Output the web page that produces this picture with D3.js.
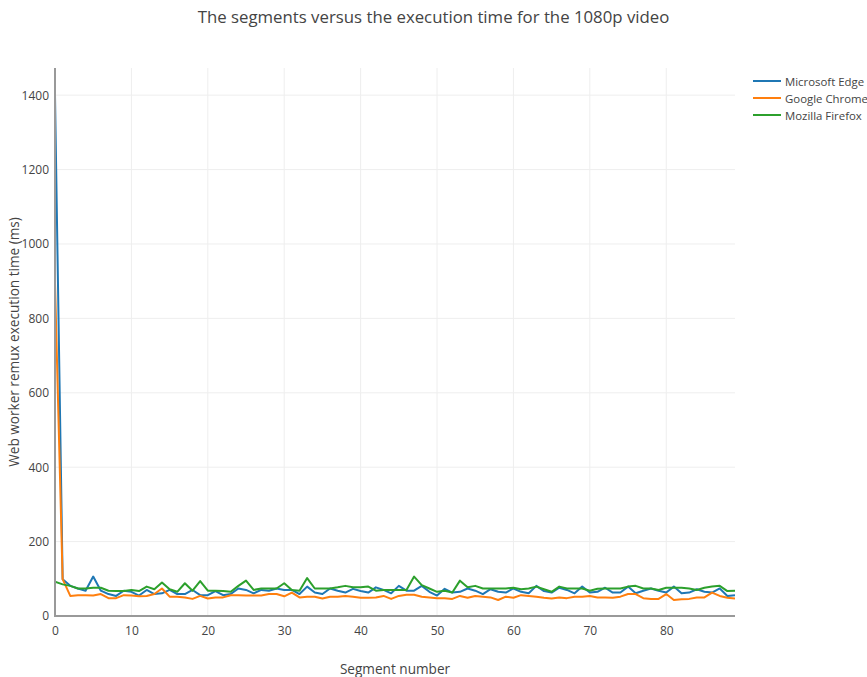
<!DOCTYPE html>
<html>
<head>
<meta charset="utf-8">
<script src="https://cdn.jsdelivr.net/npm/d3@7"></script>
<style>
  html, body { margin: 0; padding: 0; background: #fff; }
  svg { display: block; font-family: "Open Sans", "DejaVu Sans", sans-serif; }
</style>
</head>
<body>
<svg id="chart" width="867" height="677"></svg>
<script>
// Web worker remux execution time (ms) per segment, 1080p video
const segments = d3.range(0, 90);

const edgeTimes = [
  1400, 99, 81, 74, 68, 106, 68, 59, 54, 68,
  65, 55, 70, 59, 61, 70, 59, 59, 70, 56,
  56, 67, 56, 59, 74, 70, 61, 70, 68, 74,
  70, 70, 59, 79, 63, 59, 74, 68, 63, 73,
  67, 63, 77, 70, 61, 81, 68, 68, 81, 65,
  55, 73, 63, 65, 74, 68, 59, 72, 65, 63,
  74, 65, 61, 81, 67, 63, 76, 70, 61, 79,
  63, 65, 76, 63, 63, 79, 61, 68, 74, 68,
  63, 79, 61, 63, 72, 65, 63, 74, 54, 56
];

const chromeTimes = [
  895, 99, 54, 56, 56, 55, 59, 48, 48, 56,
  55, 53, 54, 59, 74, 52, 52, 50, 46, 54,
  47, 50, 50, 56, 56, 55, 55, 55, 59, 59,
  53, 63, 50, 52, 52, 47, 52, 52, 54, 52,
  49, 49, 50, 54, 46, 54, 57, 57, 52, 50,
  48, 48, 46, 54, 49, 54, 52, 50, 43, 52,
  49, 56, 54, 52, 49, 47, 50, 48, 52, 52,
  54, 50, 50, 49, 52, 59, 59, 48, 46, 46,
  59, 43, 45, 46, 50, 50, 63, 54, 49, 47
];

const firefoxTimes = [
  92, 85, 81, 74, 74, 76, 76, 68, 67, 67,
  70, 67, 79, 72, 90, 72, 65, 88, 68, 94,
  68, 68, 67, 65, 81, 95, 70, 74, 74, 74,
  88, 70, 68, 102, 74, 74, 74, 77, 81, 77,
  77, 79, 68, 70, 70, 70, 70, 106, 83, 74,
  65, 68, 63, 95, 77, 81, 74, 74, 74, 74,
  76, 72, 74, 79, 72, 65, 79, 74, 74, 74,
  68, 73, 74, 74, 74, 79, 81, 74, 74, 70,
  76, 76, 76, 74, 70, 76, 79, 81, 67, 68
];

const seriesNames = ["Microsoft Edge", "Google Chrome", "Mozilla Firefox"];
const seriesColors = ["#1f77b4", "#ff7f0e", "#2ca02c"];
const yTicks = [0, 200, 400, 600, 800, 1000, 1200, 1400];
const xTicks = [0, 10, 20, 30, 40, 50, 60, 70, 80];

const titleText = "The segments versus the execution time for the 1080p video";
const xLabel = "Segment number";
const yLabel = "Web worker remux execution time (ms)";

const seriesData = [edgeTimes, chromeTimes, firefoxTimes];

const margin = { left: 55, right: 132, top: 68, bottom: 61 };
const W = 867, H = 677;
const pw = W - margin.left - margin.right;
const ph = H - margin.top - margin.bottom;

const svg = d3.select("#chart");
const g = svg.append("g").attr("transform", `translate(${margin.left},${margin.top})`);

const x = d3.scaleLinear().domain([0, 89]).range([0, pw]);
const y = d3.scaleLinear().domain([0, 1473]).range([ph, 0]);

// grid lines
g.append("g").selectAll("line").data(xTicks.filter(d => d !== 0)).join("line")
  .attr("x1", d => x(d)).attr("x2", d => x(d))
  .attr("y1", 0).attr("y2", ph)
  .attr("stroke", "#eee").attr("stroke-width", 1);
g.append("g").selectAll("line").data(yTicks.filter(d => d !== 0)).join("line")
  .attr("x1", 0).attr("x2", pw)
  .attr("y1", d => y(d)).attr("y2", d => y(d))
  .attr("stroke", "#eee").attr("stroke-width", 1);

// axes (labels only, lines drawn as zero lines)
const xAxis = g.append("g").attr("transform", `translate(0,${ph})`)
  .call(d3.axisBottom(x).tickValues(xTicks).tickFormat(d3.format("d")).tickSize(0).tickPadding(10));
const yAxis = g.append("g")
  .call(d3.axisLeft(y).tickValues(yTicks).tickFormat(d3.format("d")).tickSize(0).tickPadding(6));
[xAxis, yAxis].forEach(a => {
  a.select(".domain").remove();
  a.selectAll("text").attr("fill", "#444").style("font-size", "12px")
    .style("font-family", '"Open Sans", sans-serif');
});

// series lines
const line = d3.line().x((d, i) => x(segments[i])).y(d => y(d));
svg.append("clipPath").attr("id", "plotclip")
  .append("rect").attr("x", 0).attr("y", 0).attr("width", pw).attr("height", ph);
const lines = g.append("g").attr("clip-path", "url(#plotclip)");
seriesData.forEach((vals, k) => {
  lines.append("path").datum(vals)
    .attr("d", line)
    .attr("fill", "none")
    .attr("stroke", seriesColors[k])
    .attr("stroke-width", 2)
    .attr("stroke-linejoin", "round");
});

// zero lines
g.append("line").attr("x1", 0).attr("x2", pw).attr("y1", y(0)).attr("y2", y(0))
  .attr("stroke", "#999").attr("stroke-width", 2);
g.append("line").attr("x1", x(0)).attr("x2", x(0)).attr("y1", 0).attr("y2", ph + 1)
  .attr("stroke", "#999").attr("stroke-width", 2);

// title and axis labels
svg.append("text").attr("x", W / 2).attr("y", 23).attr("text-anchor", "middle")
  .attr("fill", "#444").style("font-size", "16.8px").text(titleText);
svg.append("text").attr("x", margin.left + pw / 2).attr("y", 674).attr("text-anchor", "middle")
  .attr("fill", "#444").style("font-size", "13.6px").text(xLabel);
svg.append("text")
  .attr("transform", `translate(19,${margin.top + ph / 2}) rotate(-90)`)
  .attr("text-anchor", "middle").attr("fill", "#444").style("font-size", "13.6px").text(yLabel);

// legend
const legend = svg.append("g").attr("transform", "translate(753,81)");
seriesNames.forEach((name, k) => {
  const row = legend.append("g").attr("transform", `translate(0,${k * 17})`);
  row.append("line").attr("x1", 0).attr("x2", 28).attr("y1", 0).attr("y2", 0)
    .attr("stroke", seriesColors[k]).attr("stroke-width", 2);
  row.append("text").attr("x", 32).attr("y", 4.5).attr("fill", "#444")
    .style("font-size", "11.4px").text(name);
});
</script>
</body>
</html>
